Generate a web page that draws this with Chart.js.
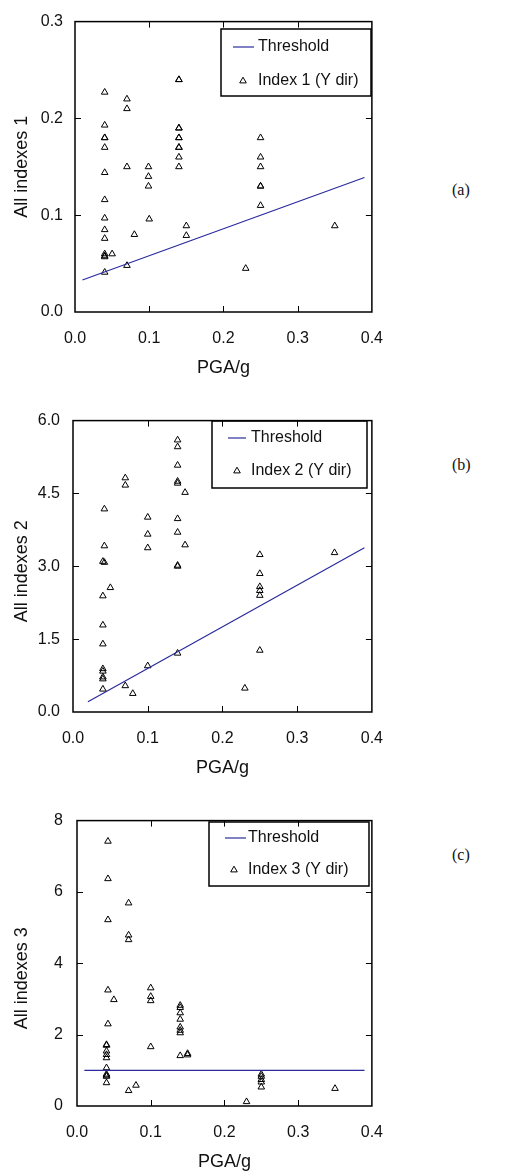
<!DOCTYPE html>
<html>
<head>
<meta charset="utf-8">
<script src="https://cdn.jsdelivr.net/npm/chart.js@4/dist/chart.umd.min.js"></script>
<style>
  body { margin:0; background:#fff; width:516px; height:1176px; overflow:hidden; position:relative; }
  canvas { position:absolute; left:0; }
  .tag { position:absolute; left:452px; font:16px "Liberation Serif","Times New Roman",serif; color:#111; line-height:18px; }
</style>
</head>
<body>
<canvas id="chartA" width="400" height="383" style="top:0px"></canvas>
<canvas id="chartB" width="400" height="385" style="top:398px"></canvas>
<canvas id="chartC" width="400" height="380" style="top:797px"></canvas>
<div class="tag" style="top:181px">(a)</div>
<div class="tag" style="top:456px">(b)</div>
<div class="tag" style="top:846px">(c)</div>
<script>
// ticks
const xTickValues = [0, 0.1, 0.2, 0.3, 0.4];
const xTickLabels = ["0.0", "0.1", "0.2", "0.3", "0.4"];
const y1TickValues = [0, 0.1, 0.2, 0.3];
const y1TickLabels = ["0.0", "0.1", "0.2", "0.3"];
const y2TickValues = [0, 1.5, 3, 4.5, 6];
const y2TickLabels = ["0.0", "1.5", "3.0", "4.5", "6.0"];
const y3TickValues = [0, 2, 4, 6, 8];
const y3TickLabels = ["0", "2", "4", "6", "8"];

// (a) index 1
const index1X = [0.04,0.04,0.04,0.04,0.04,0.04,0.04,0.04,0.04,0.04,0.04,0.04,0.04,0.04,
  0.05, 0.07,0.07,0.07,0.07, 0.08, 0.099,0.099,0.099, 0.1,
  0.14,0.14,0.14,0.14,0.14,0.14,0.14,0.14,0.14,0.14, 0.15,0.15, 0.23,
  0.25,0.25,0.25,0.25,0.25,0.25, 0.35];
const index1Y = [0.227,0.193,0.18,0.18,0.17,0.144,0.116,0.097,0.085,0.076,0.06,0.058,0.057,0.041,
  0.06, 0.22,0.21,0.15,0.048, 0.08, 0.15,0.14,0.13, 0.096,
  0.24,0.24,0.19,0.19,0.18,0.18,0.17,0.17,0.16,0.15, 0.089,0.079, 0.045,
  0.18,0.16,0.15,0.13,0.13,0.11, 0.089];
const thresh1X = [0.01, 0.39];
const thresh1Y = [0.033, 0.139];

// (b) index 2
const index2X = [0.042,0.042,0.04,0.042,0.04,0.04,0.04,0.04,0.04,0.04,0.04,0.04,
  0.05, 0.07,0.07,0.07, 0.08, 0.1,0.1,0.1,0.1,
  0.14,0.14,0.14,0.14,0.14,0.14,0.14,0.14,0.14,0.14, 0.15,0.15, 0.23,
  0.25,0.25,0.25,0.25,0.25,0.25, 0.35];
const index2Y = [4.18,3.42,3.1,3.08,2.39,1.79,1.4,0.89,0.84,0.72,0.68,0.47,
  2.56, 4.82,4.67,0.54, 0.38, 4.01,3.66,3.38,0.95,
  5.6,5.46,5.08,4.75,4.71,3.98,3.7,3.02,3.0,1.21, 4.52,3.44, 0.49,
  3.24,2.85,2.58,2.5,2.4,1.27, 3.28];
const thresh2X = [0.02, 0.39];
const thresh2Y = [0.21, 3.38];

// (c) index 3
const index3X = [0.042,0.042,0.042,0.042,0.042, 0.04,0.04,0.04,0.04,0.04,0.04,0.04,0.04,0.04,0.04,
  0.05, 0.07,0.07,0.07,0.07, 0.08, 0.1,0.1,0.1,0.1,
  0.14,0.14,0.14,0.14,0.14,0.14,0.14,0.14, 0.15,0.15, 0.23,
  0.25,0.25,0.25,0.25,0.25, 0.35];
const index3Y = [7.42,6.37,5.22,3.25,2.3, 1.72,1.7,1.54,1.44,1.35,1.07,0.89,0.86,0.83,0.65,
  2.98, 5.69,4.79,4.66,0.43, 0.58, 3.31,3.07,2.95,1.66,
  2.82,2.76,2.61,2.43,2.21,2.12,2.05,1.41, 1.47,1.43, 0.12,
  0.89,0.83,0.74,0.67,0.53, 0.49];
const thresh3X = [0.01, 0.39];
const thresh3Y = [1.0, 1.0];

const FONT = '"Liberation Sans", Arial, sans-serif';
Chart.defaults.color = "#111";
Chart.defaults.font.family = FONT;

function pts(xs, ys){ return xs.map((x, i) => ({x: x, y: ys[i]})); }

function drawTri(ctx, x, y, r){
  ctx.beginPath();
  ctx.moveTo(x, y - r);
  ctx.lineTo(x + r * 0.866, y + r / 2);
  ctx.lineTo(x - r * 0.866, y + r / 2);
  ctx.closePath();
  ctx.stroke();
}

// frame + inward ticks on all four sides
const frameTicks = {
  id: "frameTicks",
  afterDatasetsDraw(chart){
    const {ctx, chartArea: a, scales: {x, y}} = chart;
    ctx.save();
    ctx.strokeStyle = "#000";
    ctx.lineWidth = 1;
    ctx.beginPath();
    x.ticks.forEach(t => {
      if (t.value <= x.min || t.value >= x.max) return;
      const px = Math.round(x.getPixelForValue(t.value)) + 0.5;
      ctx.moveTo(px, a.bottom); ctx.lineTo(px, a.bottom - 6);
      ctx.moveTo(px, a.top); ctx.lineTo(px, a.top + 6);
    });
    y.ticks.forEach(t => {
      if (t.value <= y.min || t.value >= y.max) return;
      const py = Math.round(y.getPixelForValue(t.value)) + 0.5;
      ctx.moveTo(a.left, py); ctx.lineTo(a.left + 6, py);
      ctx.moveTo(a.right, py); ctx.lineTo(a.right - 6, py);
    });
    ctx.stroke();
    ctx.lineWidth = 1.5;
    ctx.strokeRect(a.left, a.top, a.right - a.left, a.bottom - a.top);
    ctx.restore();
  }
};

// boxed legend inside the plot
const boxLegend = {
  id: "boxLegend",
  afterDraw(chart, args, o){
    const ctx = chart.ctx;
    const ds = chart.data.datasets;
    ctx.save();
    ctx.strokeStyle = "#000";
    ctx.lineWidth = 1.5;
    ctx.strokeRect(o.x1, o.y1, o.x2 - o.x1, o.y2 - o.y1);
    ctx.strokeStyle = ds[0].borderColor;
    ctx.lineWidth = 1.2;
    ctx.beginPath();
    ctx.moveTo(o.lineX1, o.row1); ctx.lineTo(o.lineX2, o.row1);
    ctx.stroke();
    ctx.strokeStyle = "#000";
    ctx.lineWidth = 1;
    drawTri(ctx, o.markX, o.row2, 3.8);
    ctx.fillStyle = "#111";
    ctx.font = "16px " + FONT;
    ctx.textBaseline = "middle";
    ctx.fillText(ds[0].label, o.textX, o.row1);
    ctx.fillText(ds[1].label, o.textX, o.row2);
    ctx.restore();
  }
};

function makePanel(id, xs, ys, tx, ty, label, yTitle, yMax, yVals, yLabels, lay){
  new Chart(document.getElementById(id), {
    type: "scatter",
    data: {
      datasets: [
        {label: "Threshold", data: pts(tx, ty), showLine: true, borderColor: "#2a2a9c",
         borderWidth: 1.2, pointRadius: 0},
        {label: label, data: pts(xs, ys), pointStyle: "triangle", pointRadius: 3.8,
         borderColor: "#000", backgroundColor: "rgba(0,0,0,0)", borderWidth: 1}
      ]
    },
    options: {
      responsive: false,
      animation: false,
      layout: {padding: {left: 7, top: 10, right: lay.right, bottom: 0}},
      plugins: {legend: {display: false}, tooltip: {enabled: false}, boxLegend: lay.legend},
      scales: {
        x: {
          type: "linear", min: 0, max: 0.4,
          afterBuildTicks: s => { s.ticks = xTickValues.map(v => ({value: v})); },
          afterFit: s => { s.height = 71; },
          grid: {display: false, drawTicks: false},
          border: {display: false},
          ticks: {padding: 17, font: {size: 16}, callback: (v, i) => xTickLabels[i]},
          title: {display: true, text: "PGA/g", font: {size: 18}, padding: {top: 4, bottom: 4}}
        },
        y: {
          type: "linear", min: 0, max: yMax,
          afterBuildTicks: s => { s.ticks = yVals.map(v => ({value: v})); },
          afterFit: s => { s.width = lay.yWidth; },
          grid: {display: false, drawTicks: false},
          border: {display: false},
          ticks: {padding: lay.yPad, font: {size: 16}, callback: (v, i) => yLabels[i]},
          title: {display: true, text: yTitle, font: {size: 18}, padding: {top: 4, bottom: 4}}
        }
      }
    },
    plugins: [frameTicks, boxLegend]
  });
}

makePanel("chartA", index1X, index1Y, thresh1X, thresh1Y, "Index 1 (Y dir)", "All indexes 1",
  0.3, y1TickValues, y1TickLabels,
  {right: 18, yWidth: 68, yPad: 12,
   legend: {x1: 221, y1: 29, x2: 371, y2: 96, lineX1: 233, lineX2: 254, row1: 47, row2: 81, markX: 243, textX: 258}});

makePanel("chartB", index2X, index2Y, thresh2X, thresh2Y, "Index 2 (Y dir)", "All indexes 2  ",
  6, y2TickValues, y2TickLabels,
  {right: 17, yWidth: 66, yPad: 13,
   legend: {x1: 212, y1: 23, x2: 367, y2: 90, lineX1: 228, lineX2: 246, row1: 40, row2: 73, markX: 237, textX: 251}});

makePanel("chartC", index3X, index3Y, thresh3X, thresh3Y, "Index 3 (Y dir)", "All indexes 3      ",
  8, y3TickValues, y3TickLabels,
  {right: 18, yWidth: 70, yPad: 14,
   legend: {x1: 209, y1: 25, x2: 369, y2: 89, lineX1: 225, lineX2: 246, row1: 41, row2: 73, markX: 234, textX: 248}});
</script>
</body>
</html>
